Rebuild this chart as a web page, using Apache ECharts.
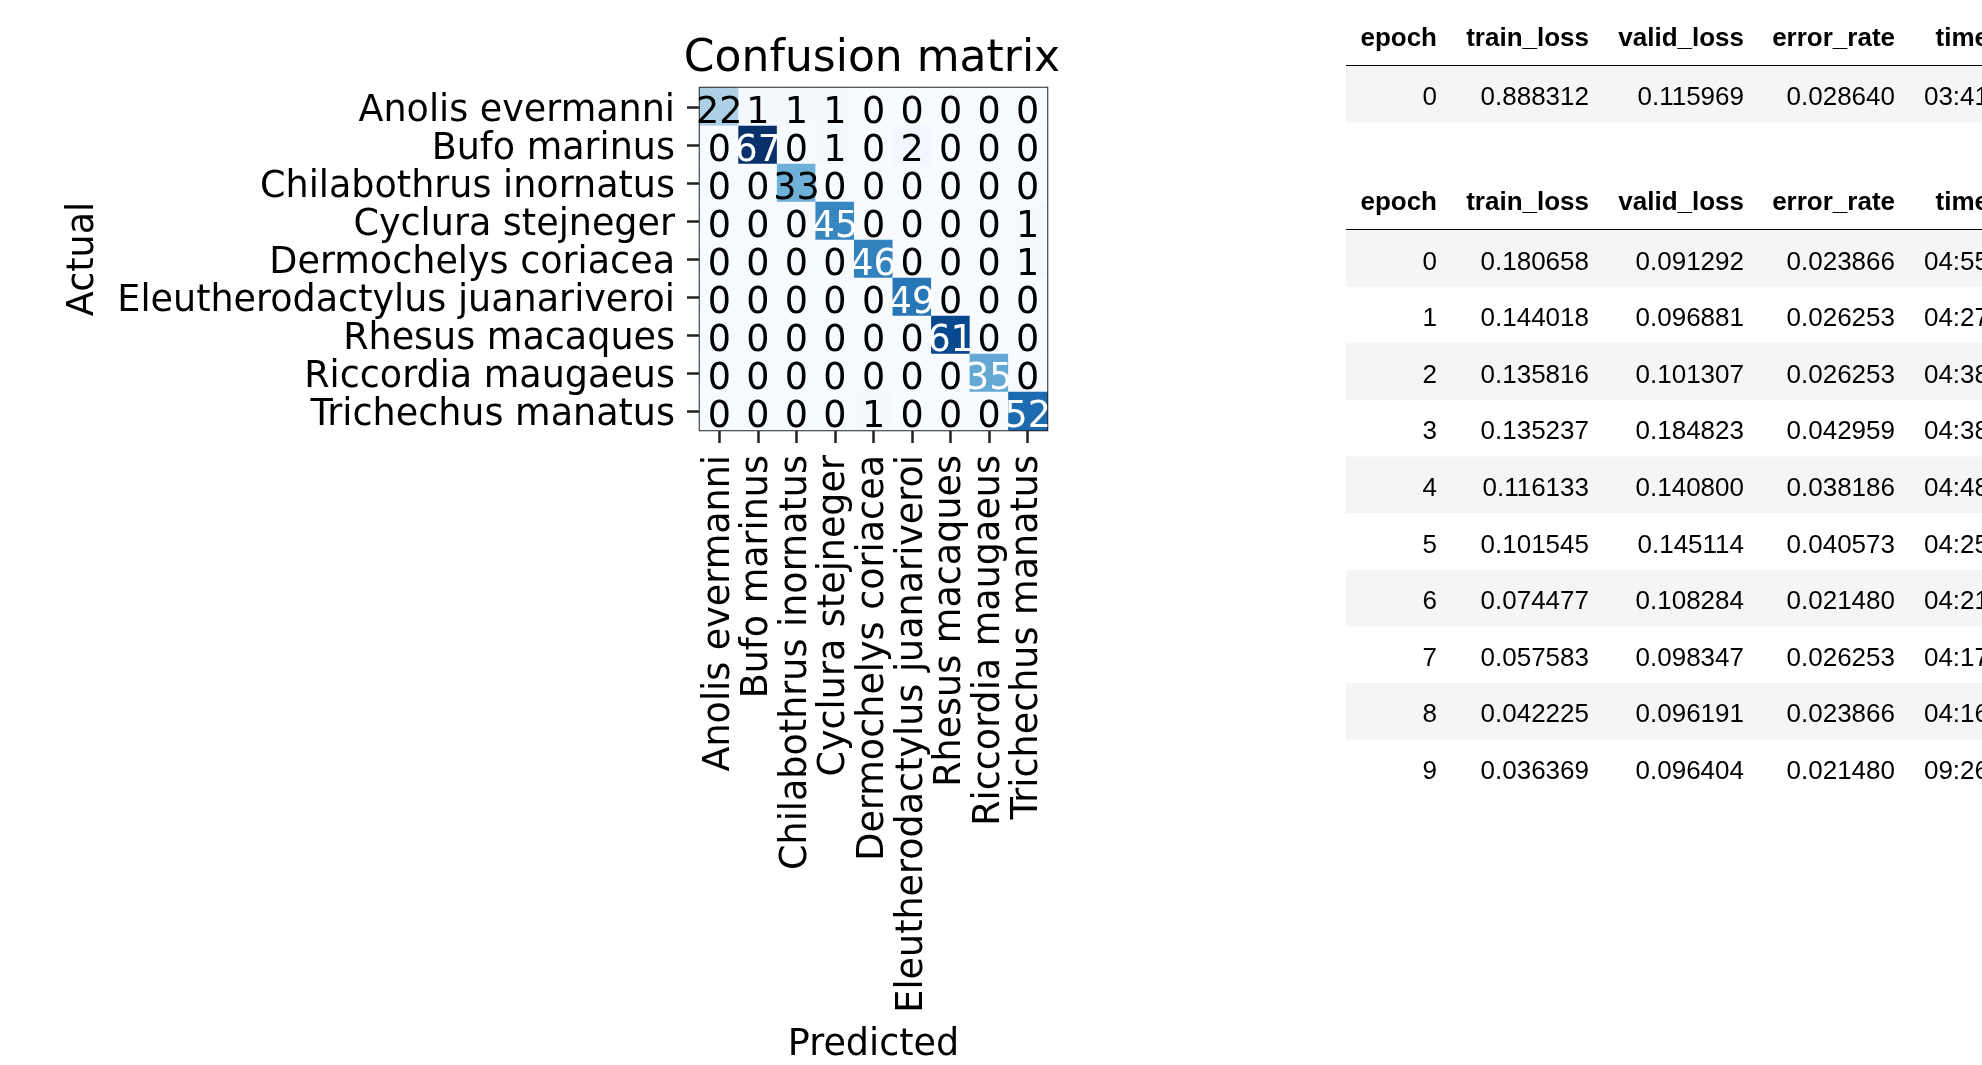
<!DOCTYPE html>
<html>
<head>
<meta charset="utf-8">
<title>Confusion matrix</title>
<script src="https://cdn.jsdelivr.net/npm/echarts@6/dist/echarts.min.js"></script>
<style>
  html, body { margin: 0; padding: 0; background: #fff; }
  #chart { width: 1982px; height: 1065px; }
</style>
</head>
<body>
<div id="chart"></div>
<script>
// classes, same order on both axes
const classes = [
    "Anolis evermanni", "Bufo marinus", "Chilabothrus inornatus", "Cyclura stejneger",
    "Dermochelys coriacea", "Eleutherodactylus juanariveroi", "Rhesus macaques",
    "Riccordia maugaeus", "Trichechus manatus",
];

// rows = actual, columns = predicted
const confusion = [
    [22, 1, 1, 1, 0, 0, 0, 0, 0],
    [0, 67, 0, 1, 0, 2, 0, 0, 0],
    [0, 0, 33, 0, 0, 0, 0, 0, 0],
    [0, 0, 0, 45, 0, 0, 0, 0, 1],
    [0, 0, 0, 0, 46, 0, 0, 0, 1],
    [0, 0, 0, 0, 0, 49, 0, 0, 0],
    [0, 0, 0, 0, 0, 0, 61, 0, 0],
    [0, 0, 0, 0, 0, 0, 0, 35, 0],
    [0, 0, 0, 0, 1, 0, 0, 0, 52],
];

const tableHeader = ["epoch", "train_loss", "valid_loss", "error_rate", "time"];

// first fit (head only)
const run1Epoch = [0];
const run1TrainLoss = [0.888312];
const run1ValidLoss = [0.115969];
const run1ErrorRate = [0.028640];
const run1Time = ["03:41"];

// second fit
const run2Epoch = [0, 1, 2, 3, 4, 5, 6, 7, 8, 9];
const run2TrainLoss = [0.180658, 0.144018, 0.135816, 0.135237, 0.116133, 0.101545, 0.074477, 0.057583, 0.042225, 0.036369];
const run2ValidLoss = [0.091292, 0.096881, 0.101307, 0.184823, 0.140800, 0.145114, 0.108284, 0.098347, 0.096191, 0.096404];
const run2ErrorRate = [0.023866, 0.026253, 0.026253, 0.042959, 0.038186, 0.040573, 0.021480, 0.026253, 0.023866, 0.021480];
const run2Time = ["04:55", "04:27", "04:38", "04:38", "04:48", "04:25", "04:21", "04:17", "04:16", "09:26"];

// matplotlib "Blues"
const blues = ["#f7fbff", "#deebf7", "#c6dbef", "#9ecae1", "#6baed6", "#4292c6", "#2171b5", "#08519c", "#08306b"];

const MPL_FONT = '"DejaVu Sans", sans-serif';
const TABLE_FONT = '"Liberation Sans", Arial, sans-serif';
const TICK_SIZE = 36.5;
const TABLE_LEFT = 1346;
const TABLE_W = 1982 - TABLE_LEFT; // table runs off the right edge
const ROW_H = 56.6;
// right edge of each table column, px from the table's left side
const colRight = [91, 243, 398, 549, 643];

const maxCount = Math.max(...confusion.flat());
const thresh = maxCount / 2;

const heatData = [];
confusion.forEach((row, i) => {
    row.forEach((v, j) => {
        heatData.push({
            value: [j, i, v],
            label: { color: v > thresh ? "#ffffff" : "#000000" },
        });
    });
});

function tableRows(epoch, train, valid, err, time) {
    const rows = [tableHeader];
    epoch.forEach((e, i) => {
        rows.push([String(e), train[i].toFixed(6), valid[i].toFixed(6), err[i].toFixed(6), time[i]]);
    });
    return rows;
}

const table1 = tableRows(run1Epoch, run1TrainLoss, run1ValidLoss, run1ErrorRate, run1Time);
const table2 = tableRows(run2Epoch, run2TrainLoss, run2ValidLoss, run2ErrorRate, run2Time);

function renderRow(rows) {
    return function (params, api) {
        const r = api.value(1);
        const yc = api.coord([0, r])[1];
        const h = api.size([0, 1])[1];
        const x0 = api.coord([0, r])[0];
        const x1 = api.coord([TABLE_W, r])[0];
        const isHeader = r === 0;
        const children = [];
        if (!isHeader && r % 2 === 1) {
            children.push({ type: "rect", shape: { x: x0, y: yc - h / 2, width: x1 - x0, height: h }, style: { fill: "#f5f5f5" } });
        }
        rows[r].forEach((txt, c) => {
            children.push({
                type: "text",
                style: {
                    text: txt,
                    x: api.coord([colRight[c], r])[0],
                    y: yc + (isHeader ? 1 : 4),
                    align: "right",
                    verticalAlign: "middle",
                    fill: "#000",
                    fontSize: 26,
                    fontFamily: TABLE_FONT,
                    fontWeight: isHeader ? "bold" : "normal",
                },
            });
        });
        if (isHeader) {
            children.push({ type: "line", shape: { x1: x0, y1: yc + h / 2, x2: x1, y2: yc + h / 2 }, style: { stroke: "#000", lineWidth: 2 } });
        }
        return { type: "group", children };
    };
}

function tableAxes(rows, idx) {
    return {
        x: { type: "value", gridIndex: idx, min: 0, max: TABLE_W, show: false },
        y: { type: "category", gridIndex: idx, inverse: true, data: rows.map((_, i) => i), show: false },
        series: {
            type: "custom",
            xAxisIndex: idx,
            yAxisIndex: idx,
            clip: false,
            renderItem: renderRow(rows),
            data: rows.map((_, i) => [0, i]),
            silent: true,
        },
    };
}

const t1 = tableAxes(table1, 1);
const t2 = tableAxes(table2, 2);

const chart = echarts.init(document.getElementById("chart"), null, { renderer: "canvas" });

chart.setOption({
    backgroundColor: "#ffffff",
    animation: false,
    title: {
        text: "Confusion matrix",
        left: 867,
        top: 33,
        textAlign: "center",
        textStyle: { fontFamily: MPL_FONT, fontSize: 44, fontWeight: "normal", color: "#000" },
    },
    visualMap: {
        show: false,
        type: "continuous",
        seriesIndex: 0,
        dimension: 2,
        min: 0,
        max: maxCount,
        inRange: { color: blues },
    },
    grid: [
        { left: 700, top: 88, width: 347, height: 346, show: true, borderColor: "#222", borderWidth: 2.5, backgroundColor: "transparent" },
        { left: TABLE_LEFT, top: 9.4, width: TABLE_W, height: ROW_H * table1.length },
        { left: TABLE_LEFT, top: 173.5, width: TABLE_W, height: ROW_H * table2.length },
    ],
    xAxis: [
        {
            type: "category",
            gridIndex: 0,
            data: classes,
            position: "bottom",
            name: "Predicted",
            nameLocation: "middle",
            nameGap: 597,
            nameTextStyle: { fontFamily: MPL_FONT, fontSize: TICK_SIZE, color: "#000" },
            axisLine: { show: false },
            axisTick: { show: true, alignWithLabel: true, length: 13, lineStyle: { color: "#222", width: 2.5 } },
            axisLabel: { rotate: 90, interval: 0, margin: 25, fontFamily: MPL_FONT, fontSize: TICK_SIZE, color: "#000" },
            splitLine: { show: false },
        },
        t1.x,
        t2.x,
    ],
    yAxis: [
        {
            type: "category",
            gridIndex: 0,
            data: classes,
            inverse: true,
            name: "Actual",
            nameLocation: "middle",
            nameGap: 598,
            nameRotate: 90,
            nameTextStyle: { fontFamily: MPL_FONT, fontSize: TICK_SIZE, color: "#000" },
            axisLine: { show: false },
            axisTick: { show: true, alignWithLabel: true, length: 13, lineStyle: { color: "#222", width: 2.5 } },
            // matplotlib centres on the baseline-ish, a little lower than ECharts "middle"
            axisLabel: { interval: 0, margin: 25, verticalAlign: "top", lineHeight: 10, fontFamily: MPL_FONT, fontSize: TICK_SIZE, color: "#000" },
            splitLine: { show: false },
        },
        t1.y,
        t2.y,
    ],
    series: [
        {
            type: "heatmap",
            xAxisIndex: 0,
            yAxisIndex: 0,
            data: heatData,
            label: {
                show: true,
                fontFamily: MPL_FONT,
                fontSize: TICK_SIZE,
                offset: [0, 7],
                formatter: (p) => String(p.value[2]),
            },
            emphasis: { disabled: true },
        },
        t1.series,
        t2.series,
    ],
});
</script>
</body>
</html>
